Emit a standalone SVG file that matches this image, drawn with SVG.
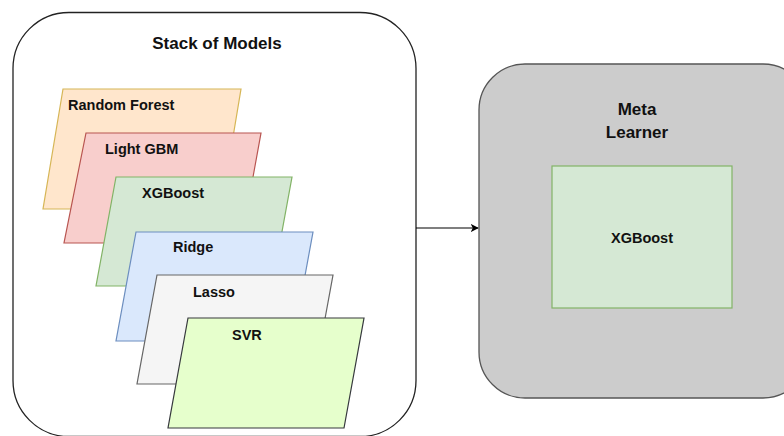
<svg xmlns="http://www.w3.org/2000/svg" width="784" height="436" viewBox="0 0 784 436">
  <defs>
    <marker id="arrow" viewBox="0 0 10 10" refX="9" refY="5" markerWidth="8" markerHeight="8" markerUnits="userSpaceOnUse" orient="auto">
      <path d="M0,0 L10,5 L0,10 L2.5,5 Z" fill="#000"/>
    </marker>
  </defs>
  <style>
    text { font-family: "Liberation Sans", Arial, sans-serif; font-weight: bold; fill: #111; }
    .title { font-size: 17px; text-anchor: middle; }
    .lbl { font-size: 14.5px; }
    .model { stroke-width: 1.2; }
  </style>
  <rect width="784" height="436" fill="#ffffff"/>

  <!-- Container holding the base models -->
  <g id="stack">
    <rect x="13" y="12.5" width="403" height="424" rx="56" ry="56" fill="#ffffff" stroke="#222" stroke-width="1.3"/>
    <text class="title" x="217" y="49">Stack of Models</text>
  </g>

  <g id="random-forest">
    <polygon class="model" points="63,89 241,89 221,209 43,209" fill="#ffe6cc" stroke="#d6b656"/>
    <text class="lbl" x="68" y="110">Random Forest</text>
  </g>
  <g id="light-gbm">
    <polygon class="model" points="86,133 261,133 241,243 64,243" fill="#f8cecc" stroke="#b85450"/>
    <text class="lbl" x="105" y="154">Light GBM</text>
  </g>
  <g id="xgboost-base">
    <polygon class="model" points="116,177 292,177 272,286 96,286" fill="#d5e8d4" stroke="#82b366"/>
    <text class="lbl" x="142" y="198">XGBoost</text>
  </g>
  <g id="ridge">
    <polygon class="model" points="136,232 313,232 293,341 116,341" fill="#dae8fc" stroke="#6c8ebf"/>
    <text class="lbl" x="173" y="252">Ridge</text>
  </g>
  <g id="lasso">
    <polygon class="model" points="157,275 333,275 313,384 137,384" fill="#f5f5f5" stroke="#666666"/>
    <text class="lbl" x="193" y="297">Lasso</text>
  </g>
  <g id="svr">
    <polygon class="model" points="188,318 364,318 344,428 168,428" fill="#e6ffcc" stroke="#36393d"/>
    <text class="lbl" x="232" y="340">SVR</text>
  </g>

  <!-- Meta learner -->
  <g id="meta-learner">
    <rect x="479" y="64" width="330" height="334" rx="46" ry="46" fill="#cccccc" stroke="#555" stroke-width="1.3"/>
    <text class="title" x="637" y="115">Meta</text>
    <text class="title" x="637" y="138">Learner</text>
  </g>
  <g id="xgboost-meta">
    <rect x="552" y="166" width="180" height="142" fill="#d5e8d4" stroke="#82b366" stroke-width="1.2"/>
    <text class="lbl" x="642" y="243" text-anchor="middle">XGBoost</text>
  </g>

  <g id="connectors">
    <line x1="416" y1="228" x2="478" y2="228" stroke="#000" stroke-width="1.2" marker-end="url(#arrow)"/>
  </g>
</svg>
